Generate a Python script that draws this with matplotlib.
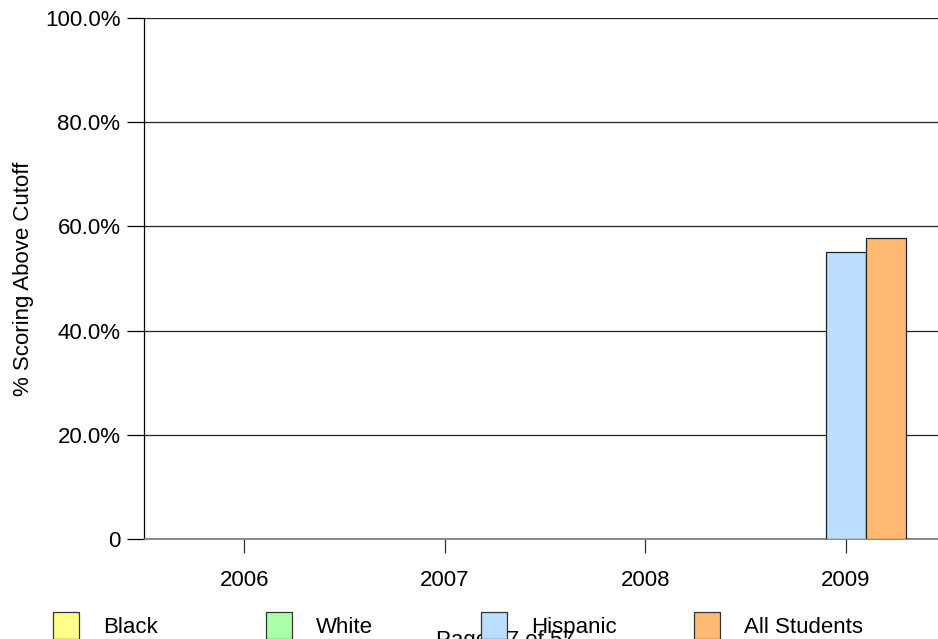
import matplotlib.pyplot as plt
import numpy as np

plt.rcParams["font.family"] = ["Liberation Sans", "DejaVu Sans"]

years = ["2006", "2007", "2008", "2009"]
groups = ["Black", "White", "Hispanic", "All Students"]
colors = ["#FFFF88", "#AAFFAA", "#BBDDFF", "#FFB870"]
# percent scoring above cutoff, None = no data
black = [None, None, None, None]
white = [None, None, None, None]
hispanic = [None, None, None, 55.1]
all_students = [None, None, None, 57.8]
series = [black, white, hispanic, all_students]

fig = plt.figure(figsize=(9.38, 6.39), dpi=100)
ax = fig.add_axes([144 / 938, 1 - 539 / 639, 1 - 144 / 938, 521 / 639])

x = np.arange(len(years))
width = 0.2
offsets = [-0.4, -0.2, 0.0, 0.2]
for vals, off, col in zip(series, offsets, colors):
    xs = [xi + off for xi, v in zip(x, vals) if v is not None]
    ys = [v for v in vals if v is not None]
    ax.bar(xs, ys, width=width, color=col, edgecolor="#222222", linewidth=0.9, zorder=3)

ax.set_xlim(-0.5, 3.46)
ax.set_ylim(0, 100)
ax.set_yticks([0, 20, 40, 60, 80, 100])
ax.set_yticklabels(["0", "20.0%", "40.0%", "60.0%", "80.0%", "100.0%"])
ax.set_xticks(x)
ax.set_xticklabels(years)
ax.yaxis.grid(True, color="#222222", linewidth=0.9)
ax.set_axisbelow(True)
ax.tick_params(axis="y", length=12, width=0.9, labelsize=16, pad=5)
ax.tick_params(axis="x", length=10, width=0.9, labelsize=16, pad=12, color="#333333")
for s in ["top", "right"]:
    ax.spines[s].set_visible(False)
ax.spines["left"].set_linewidth(0.9)
ax.spines["bottom"].set_color("#777777")
ax.spines["bottom"].set_linewidth(1.2)
ax.set_ylabel("% Scoring Above Cutoff", fontsize=16, labelpad=8)

fig.text(505 / 938, 1 - 630 / 639, "Page 17 of 57", fontsize=16, ha="center", va="top")

legend_x = [53, 266, 481, 694]
for g, col, lx in zip(groups, colors, legend_x):
    h = plt.Rectangle((0, 0), 1, 1, facecolor=col, edgecolor="#333333", linewidth=0.9)
    fig.legend([h], [g], loc="upper left", bbox_to_anchor=(lx / 938 - 0.0095, 1 - 603 / 639),
               frameon=False, fontsize=16, handlelength=1.15, handleheight=1.5,
               handletextpad=1.1, borderaxespad=0)

fig.savefig("out.png", dpi=100)
